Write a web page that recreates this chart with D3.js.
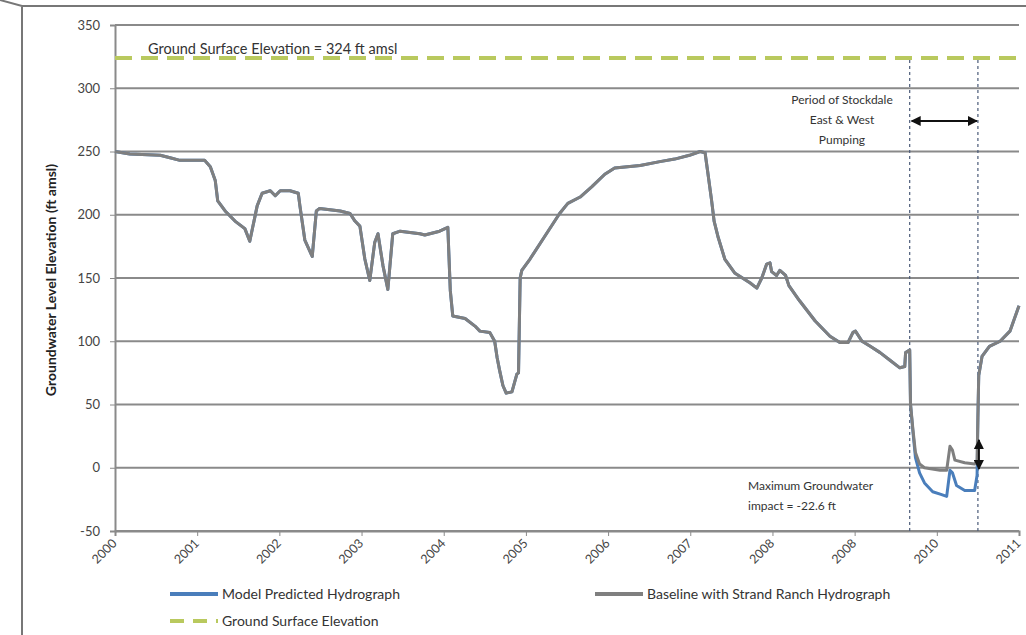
<!DOCTYPE html>
<html>
<head>
<meta charset="utf-8">
<script src="https://cdn.jsdelivr.net/npm/d3@7"></script>
<style>
  body { margin: 0; background: #fff; }
  svg { font-family: Lato, "Open Sans", sans-serif; }
</style>
</head>
<body>
<svg id="chart" width="1026" height="635"></svg>
<script>
// Baseline with Strand Ranch hydrograph (decimal year, ft amsl)
const baseYears = [2000.00, 2000.18, 2000.55, 2000.67, 2000.79, 2001.09, 2001.16, 2001.22, 2001.25, 2001.34,
  2001.46, 2001.58, 2001.64, 2001.73, 2001.79, 2001.89, 2001.95, 2002.01, 2002.13, 2002.23,
  2002.25, 2002.31, 2002.40, 2002.45, 2002.49, 2002.74, 2002.86, 2002.92, 2002.98, 2003.04,
  2003.10, 2003.16, 2003.20, 2003.26, 2003.32, 2003.38, 2003.47, 2003.71, 2003.77, 2003.95,
  2004.05, 2004.08, 2004.11, 2004.26, 2004.38, 2004.44, 2004.56, 2004.62, 2004.65, 2004.68,
  2004.72, 2004.76, 2004.83, 2004.89, 2004.91, 2004.93, 2004.95, 2005.05, 2005.23, 2005.41,
  2005.51, 2005.66, 2005.80, 2005.96, 2006.08, 2006.39, 2006.63, 2006.81, 2006.99, 2007.12,
  2007.18, 2007.21, 2007.26, 2007.29, 2007.34, 2007.42, 2007.54, 2007.73, 2007.81, 2007.87,
  2007.93, 2007.97, 2007.99, 2008.05, 2008.09, 2008.16, 2008.20, 2008.33, 2008.52, 2008.70,
  2008.82, 2008.92, 2008.98, 2009.01, 2009.09, 2009.19, 2009.31, 2009.43, 2009.55, 2009.61,
  2009.62, 2009.67, 2009.68, 2009.71, 2009.74, 2009.79, 2009.85, 2010.04, 2010.12, 2010.16,
  2010.19, 2010.22, 2010.34, 2010.46, 2010.49, 2010.50, 2010.51, 2010.55, 2010.64, 2010.77,
  2010.89, 2011.00];
const baseLevels = [250, 248, 247, 245, 243, 243, 238, 227, 211, 203,
  195, 189, 179, 207, 217, 219, 215, 219, 219, 217,
  207, 180, 167, 203, 205, 203, 201, 195, 191, 165,
  148, 178, 185, 160, 141, 185, 187, 185, 184, 187,
  190, 140, 120, 118, 112, 108, 107, 100, 87, 77,
  65, 59, 60, 74, 75, 150, 156, 165, 183, 201,
  209, 214, 222, 232, 237, 239, 242, 244, 247, 250,
  249, 235, 211, 195, 182, 165, 154, 146, 142, 150,
  161, 162, 155, 152, 156, 152, 144, 132, 116, 104,
  99, 99, 107, 108, 100, 96, 91, 85, 79, 80,
  91, 93, 50, 30, 12, 3, 0, -2, -2, 17,
  14, 6, 4, 3, 6, 40, 73, 88, 96, 100,
  108, 128];

// Model predicted hydrograph where it departs from the baseline (pumping period)
const modelYears = [2009.67, 2009.68, 2009.71, 2009.74, 2009.79, 2009.85, 2009.95, 2010.05, 2010.12, 2010.16,
  2010.19, 2010.24, 2010.34, 2010.46, 2010.49, 2010.50, 2010.51];
const modelLevels = [93, 50, 28, 8, -4, -12, -19, -21, -22.6, -2,
  -4, -14, -18, -18, -6, 40, 73];

const groundSurface = 324;
const pumpingStart = 2009.67;
const pumpingEnd = 2010.50;

const yTicks = [-50, 0, 50, 100, 150, 200, 250, 300, 350];
const xTicks = [2000, 2001, 2002, 2003, 2004, 2005, 2006, 2007, 2008, 2009, 2010, 2011];
const xTickLabels = ["2000", "2001", "2002", "2003", "2004", "2005", "2006", "2007", "2008", "2008", "2010", "2011"];

const svg = d3.select("#chart");

const x = d3.scaleLinear().domain([2000, 2011]).range([115, 1019]);
const y = d3.scaleLinear().domain([-50, 350]).range([531, 25]);

// Outer frame of the figure
svg.append("path")
    .attr("d", "M0,0 L22,6 L1026,6 M22,6 L22,635")
    .attr("fill", "none")
    .attr("stroke", "#777")
    .attr("stroke-width", 2);

// Gridlines
svg.append("g")
    .selectAll("line")
    .data(yTicks)
    .join("line")
    .attr("x1", x(2000))
    .attr("x2", x(2011))
    .attr("y1", d => y(d))
    .attr("y2", d => y(d))
    .attr("stroke", "#8a8a8a")
    .attr("stroke-width", 2);

// Y axis
svg.append("g")
    .attr("transform", `translate(${x(2000)},0)`)
    .call(d3.axisLeft(y).tickValues(yTicks).tickSize(5).tickPadding(10).tickFormat(d => String(d)))
    .call(g => g.select(".domain").attr("stroke", "#8a8a8a").attr("stroke-width", 2))
    .call(g => g.selectAll(".tick line").attr("stroke", "#8a8a8a"))
    .call(g => g.selectAll("text").attr("fill", "#444").attr("font-size", 13).attr("font-family", "Lato, sans-serif"));

// X axis
svg.append("g")
    .attr("transform", `translate(0,${y(-50)})`)
    .call(d3.axisBottom(x).tickValues(xTicks).tickFormat((d, i) => xTickLabels[i]).tickSize(5))
    .call(g => g.select(".domain").attr("stroke", "#8a8a8a").attr("stroke-width", 2))
    .call(g => g.selectAll(".tick line").attr("stroke", "#8a8a8a"))
    .call(g => g.selectAll("text")
        .attr("fill", "#444")
        .attr("font-size", 12.5)
        .attr("font-family", "Lato, sans-serif")
        .attr("text-anchor", "end")
        .attr("transform", "translate(-1,10) rotate(-45)")
        .attr("dy", "0.35em")
        .attr("y", 0)
        .attr("x", 0));

// Ground surface elevation
svg.append("line")
    .attr("x1", x(2000))
    .attr("x2", x(2011))
    .attr("y1", y(groundSurface))
    .attr("y2", y(groundSurface))
    .attr("stroke", "#b9c95e")
    .attr("stroke-width", 4)
    .attr("stroke-dasharray", "17,9");

svg.append("text")
    .attr("x", 148)
    .attr("y", 54)
    .attr("font-size", 14.5)
    .attr("fill", "#333")
    .text("Ground Surface Elevation = 324 ft amsl");

// Pumping period markers
svg.append("g")
    .selectAll("line")
    .data([pumpingStart, pumpingEnd])
    .join("line")
    .attr("x1", d => x(d))
    .attr("x2", d => x(d))
    .attr("y1", 60)
    .attr("y2", y(-50))
    .attr("stroke", "#4a5a78")
    .attr("stroke-width", 1.2)
    .attr("stroke-dasharray", "3,3");

const line = d3.line()
    .x(d => x(d.t))
    .y(d => y(d.v));

const baseData = baseYears.map((t, i) => ({ t, v: baseLevels[i] }));
const modelData = baseData.filter(d => d.t < pumpingStart)
    .concat(modelYears.map((t, i) => ({ t, v: modelLevels[i] })))
    .concat(baseData.filter(d => d.t > modelYears[modelYears.length - 1]));

svg.append("path")
    .datum(modelData)
    .attr("fill", "none")
    .attr("stroke", "#4a7ebb")
    .attr("stroke-width", 3)
    .attr("stroke-linejoin", "round")
    .attr("d", line);

svg.append("path")
    .datum(baseData)
    .attr("fill", "none")
    .attr("stroke", "#7f7f7f")
    .attr("stroke-width", 3)
    .attr("stroke-linejoin", "round")
    .attr("d", line);

// Arrow markers
const defs = svg.append("defs");
defs.append("marker")
    .attr("id", "arrow")
    .attr("viewBox", "0 0 10 10")
    .attr("refX", 9)
    .attr("refY", 5)
    .attr("markerWidth", 5)
    .attr("markerHeight", 5)
    .attr("orient", "auto-start-reverse")
    .append("path")
    .attr("d", "M0,0 L10,5 L0,10 z")
    .attr("fill", "#111");

// Pumping period arrow and label
svg.append("line")
    .attr("x1", x(pumpingStart) + 2)
    .attr("x2", x(pumpingEnd) - 1)
    .attr("y1", 121)
    .attr("y2", 121)
    .attr("stroke", "#111")
    .attr("stroke-width", 2)
    .attr("marker-start", "url(#arrow)")
    .attr("marker-end", "url(#arrow)");

svg.append("text")
    .attr("x", 842)
    .attr("y", 104)
    .attr("text-anchor", "middle")
    .attr("font-size", 12)
    .attr("fill", "#333")
    .selectAll("tspan")
    .data(["Period of Stockdale", "East & West", "Pumping"])
    .join("tspan")
    .attr("x", 842)
    .attr("dy", (d, i) => i === 0 ? 0 : 20)
    .text(d => d);

// Maximum impact arrow and label
svg.append("line")
    .attr("x1", x(pumpingEnd) + 1)
    .attr("x2", x(pumpingEnd) + 1)
    .attr("y1", y(22))
    .attr("y2", y(-1))
    .attr("stroke", "#111")
    .attr("stroke-width", 2)
    .attr("marker-start", "url(#arrow)")
    .attr("marker-end", "url(#arrow)");

svg.append("text")
    .attr("x", 748)
    .attr("y", 490)
    .attr("font-size", 12)
    .attr("fill", "#333")
    .selectAll("tspan")
    .data(["Maximum Groundwater", "impact = -22.6 ft"])
    .join("tspan")
    .attr("x", 748)
    .attr("dy", (d, i) => i === 0 ? 0 : 20)
    .text(d => d);

// Y axis title
svg.append("text")
    .attr("transform", "rotate(-90)")
    .attr("x", -280)
    .attr("y", 56)
    .attr("text-anchor", "middle")
    .attr("font-size", 14)
    .attr("font-weight", "bold")
    .attr("fill", "#222")
    .text("Groundwater Level Elevation (ft amsl)");

// Legend
const legendItems = [
    { label: "Model Predicted Hydrograph", color: "#4a7ebb", dash: null, lx: 170, ly: 594 },
    { label: "Baseline with Strand Ranch Hydrograph", color: "#7f7f7f", dash: null, lx: 595, ly: 594 },
    { label: "Ground Surface Elevation", color: "#b9c95e", dash: "14,9", lx: 170, ly: 621 }
];

const legend = svg.append("g");
const item = legend.selectAll("g")
    .data(legendItems)
    .join("g")
    .attr("transform", d => `translate(${d.lx},${d.ly})`);

item.append("line")
    .attr("x1", 0)
    .attr("x2", 48)
    .attr("stroke", d => d.color)
    .attr("stroke-width", 4)
    .attr("stroke-dasharray", d => d.dash);

item.append("text")
    .attr("x", 52)
    .attr("dy", "0.35em")
    .attr("font-size", 14)
    .attr("fill", "#333")
    .text(d => d.label);
</script>
</body>
</html>
